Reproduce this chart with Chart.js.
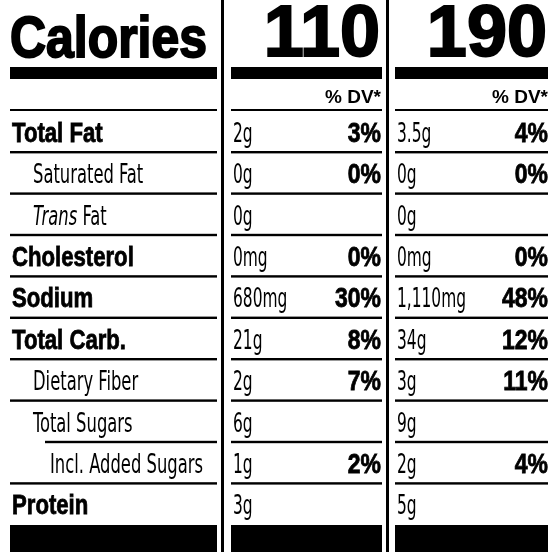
<!DOCTYPE html>
<html><head><meta charset="utf-8">
<script src="https://cdn.jsdelivr.net/npm/chart.js@4"></script>
<style>html,body{margin:0;padding:0;background:#fff}canvas{display:block}</style>
</head><body>
<canvas id="c" width="552" height="552"></canvas>
<script>
const rowLabels = ["Total Fat","Saturated Fat","Trans Fat","Cholesterol","Sodium","Total Carb.","Dietary Fiber","Total Sugars","Incl. Added Sugars","Protein"];
const rowBold   = [true,false,false,true,true,true,false,false,false,true];
const rowIndent = [0,1,1,0,0,0,1,1,2,0];
const calories  = ["110","190"];
const amount1   = ["2g","0g","0g","0mg","680mg","21g","2g","6g","1g","3g"];
const dv1       = ["3%","0%","","0%","30%","8%","7%","","2%",""];
const amount2   = ["3.5g","0g","0g","0mg","1,110mg","34g","3g","9g","2g","5g"];
const dv2       = ["4%","0%","","0%","48%","12%","11%","","4%",""];

const narrow = "26px 'DejaVu Sans Condensed','Liberation Sans',sans-serif";
const boldF = s=>"bold "+s+"px 'Liberation Sans',Arial,sans-serif";
function squeezed(ctx,t,x,y,k){ctx.fillText(t,x,y,Math.max(1,ctx.measureText(t).width*k));}
const plugin = {
  id:'label',
  afterDraw(chart){
    const ctx = chart.ctx, xs = chart.scales.x, ys = chart.scales.y;
    const X = v=>xs.getPixelForValue(v), Y = v=>ys.getPixelForValue(v);
    const rect=(x0,y0,x1,y1)=>{ctx.fillRect(X(x0),Y(y0),X(x1)-X(x0),Y(y1)-Y(y0));};
    ctx.save(); ctx.fillStyle='#000'; ctx.strokeStyle='#000';
    rect(221,0,224,552); rect(386,0,389,552);
    ctx.textBaseline='alphabetic';
    ctx.font=boldF(58); ctx.textAlign='left'; ctx.lineWidth=2;
    ctx.fillText("Calories",X(10),Y(57),197); ctx.strokeText("Calories",X(10),Y(57),197);
    ctx.font=boldF(72); ctx.textAlign='right';
    ctx.fillText(calories[0],X(380),Y(56),122); ctx.strokeText(calories[0],X(380),Y(56),122);
    ctx.fillText(calories[1],X(547),Y(56),122); ctx.strokeText(calories[1],X(547),Y(56),122);
    rect(10,67,217,79); rect(231,67,382,79); rect(395,67,548,79);
    ctx.font=boldF(19);
    ctx.fillText("% DV*",X(381),Y(103)); ctx.fillText("% DV*",X(548),Y(103));
    rect(10,109,217,111); rect(231,109,382,111); rect(395,109,548,111);
    const cols=[[amount1,dv1,233,381,231,382],[amount2,dv2,397,548,395,548]];
    ctx.lineWidth=0.8;
    rowLabels.forEach((lab,i)=>{
      const top=111+i*41.4, mid=top+20.7, base=mid+10;
      const ind=[12,33,50][rowIndent[i]];
      ctx.textAlign='left';
      if(rowBold[i]){ctx.font=boldF(27);const w=ctx.measureText(lab).width*0.82;ctx.fillText(lab,X(ind),Y(base),w);ctx.strokeText(lab,X(ind),Y(base),w);}
      else if(lab==="Trans Fat"){
        ctx.font="italic "+narrow; squeezed(ctx,"Trans",X(ind),Y(base),0.7);
        const w=ctx.measureText("Trans ").width*0.7; ctx.font=narrow; squeezed(ctx,"Fat",X(ind)+w,Y(base),0.7);
      } else {ctx.font=narrow; squeezed(ctx,lab,X(ind),Y(base),0.7);}
      cols.forEach(c=>{
        ctx.textAlign='left'; ctx.font=narrow; squeezed(ctx,c[0][i],X(c[2]),Y(base),0.66);
        ctx.textAlign='right'; ctx.font=boldF(27); const t=c[1][i];
        if(t){const w=ctx.measureText(t).width*0.85;ctx.fillText(t,X(c[3]),Y(base),w);ctx.strokeText(t,X(c[3]),Y(base),w);}
      });
      if(i<rowLabels.length-1){
        const lx = i===7?45:10;
        rect(lx,top+40,217,top+42.4);
        cols.forEach(c=>rect(c[4],top+40,c[5],top+42.4));
      }
    });
    rect(10,525,217,552); rect(231,525,382,552); rect(395,525,548,552);
    ctx.restore();
  }
};
new Chart(document.getElementById('c'),{
  type:'scatter',
  data:{datasets:[{data:[]}]},
  options:{responsive:false,animation:false,events:[],
    layout:{padding:0},
    plugins:{legend:{display:false},tooltip:{enabled:false}},
    scales:{x:{type:'linear',min:0,max:552,display:false},y:{type:'linear',min:0,max:552,reverse:true,display:false}}},
  plugins:[plugin]
});
</script>
</body></html>
